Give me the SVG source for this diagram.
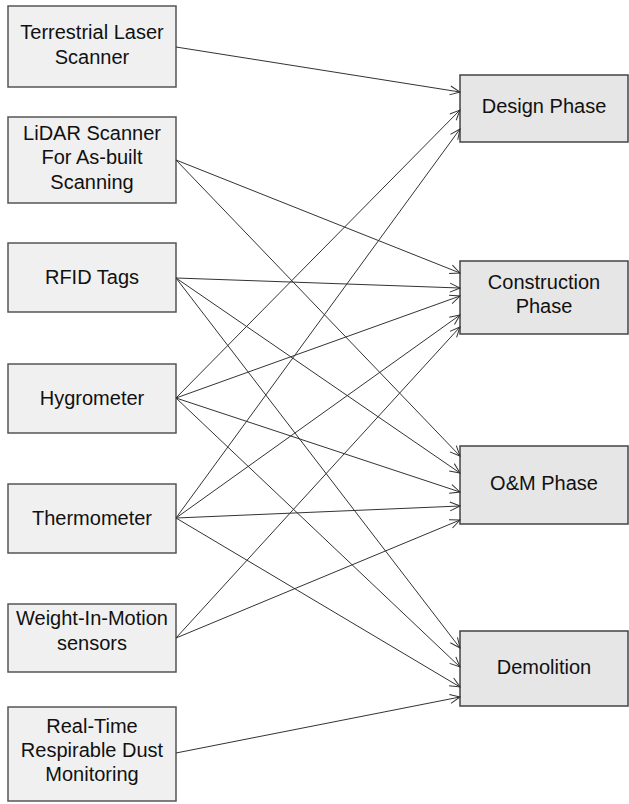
<svg xmlns="http://www.w3.org/2000/svg" width="629" height="804" viewBox="0 0 629 804">
  <style>
    .src rect { fill: #f0f0f0; stroke: #555555; stroke-width: 1.5; }
    .dst rect { fill: #e6e6e6; stroke: #444444; stroke-width: 1.5; }
    text { font-family: "Liberation Sans", Arial, sans-serif; font-size: 20px; fill: #111111; text-anchor: middle; }
    .edges line { stroke: #333333; stroke-width: 1; fill: none; marker-end: url(#open); }
  </style>
  <defs>
    <marker id="open" viewBox="0 0 12 12" refX="11" refY="6" markerWidth="12" markerHeight="12" markerUnits="userSpaceOnUse" orient="auto">
      <path d="M1,1.5 L11,6 L1,10.5" fill="none" stroke="#333333" stroke-width="1"/>
    </marker>
  </defs>
  <rect width="629" height="804" fill="#ffffff"/>

  <!-- technologies -->
  <g id="terrestrial-laser-scanner" class="src">
    <rect x="8" y="6" width="168" height="81"/>
    <text x="92" y="39">Terrestrial Laser</text>
    <text x="92" y="64">Scanner</text>
  </g>
  <g id="lidar-scanner" class="src">
    <rect x="8" y="117" width="168" height="86"/>
    <text x="92" y="139.5">LiDAR Scanner</text>
    <text x="92" y="164">For As-built</text>
    <text x="92" y="188.5">Scanning</text>
  </g>
  <g id="rfid-tags" class="src">
    <rect x="8" y="243" width="168" height="69"/>
    <text x="92" y="284">RFID Tags</text>
  </g>
  <g id="hygrometer" class="src">
    <rect x="8" y="364" width="168" height="69"/>
    <text x="92" y="405">Hygrometer</text>
  </g>
  <g id="thermometer" class="src">
    <rect x="8" y="484" width="168" height="69"/>
    <text x="92" y="525">Thermometer</text>
  </g>
  <g id="weight-in-motion" class="src">
    <rect x="8" y="604" width="168" height="68"/>
    <text x="92" y="625">Weight-In-Motion</text>
    <text x="92" y="650">sensors</text>
  </g>
  <g id="dust-monitoring" class="src">
    <rect x="8" y="707" width="168" height="94"/>
    <text x="92" y="733">Real-Time</text>
    <text x="92" y="757">Respirable Dust</text>
    <text x="92" y="781">Monitoring</text>
  </g>

  <!-- lifecycle phases -->
  <g id="design-phase" class="dst">
    <rect x="460" y="75" width="168" height="67"/>
    <text x="544" y="113">Design Phase</text>
  </g>
  <g id="construction-phase" class="dst">
    <rect x="460" y="261" width="168" height="73"/>
    <text x="544" y="289">Construction</text>
    <text x="544" y="313">Phase</text>
  </g>
  <g id="om-phase" class="dst">
    <rect x="460" y="446" width="168" height="78"/>
    <text x="544" y="490">O&amp;M Phase</text>
  </g>
  <g id="demolition" class="dst">
    <rect x="460" y="631" width="168" height="75"/>
    <text x="544" y="674">Demolition</text>
  </g>

  <!-- connectors -->
  <g id="connectors" class="edges">
    <line x1="176" y1="47" x2="460" y2="92"/>
    <line x1="176" y1="160" x2="460" y2="273"/>
    <line x1="176" y1="160" x2="460" y2="456"/>
    <line x1="176" y1="278" x2="460" y2="288"/>
    <line x1="176" y1="278" x2="460" y2="473"/>
    <line x1="176" y1="278" x2="460" y2="648"/>
    <line x1="176" y1="398" x2="460" y2="110"/>
    <line x1="176" y1="398" x2="460" y2="296"/>
    <line x1="176" y1="398" x2="460" y2="492"/>
    <line x1="176" y1="398" x2="460" y2="667"/>
    <line x1="176" y1="518" x2="460" y2="129"/>
    <line x1="176" y1="518" x2="460" y2="315"/>
    <line x1="176" y1="518" x2="460" y2="506"/>
    <line x1="176" y1="518" x2="460" y2="687"/>
    <line x1="176" y1="638" x2="460" y2="327"/>
    <line x1="176" y1="638" x2="460" y2="520"/>
    <line x1="176" y1="753" x2="460" y2="697"/>
  </g>
</svg>
